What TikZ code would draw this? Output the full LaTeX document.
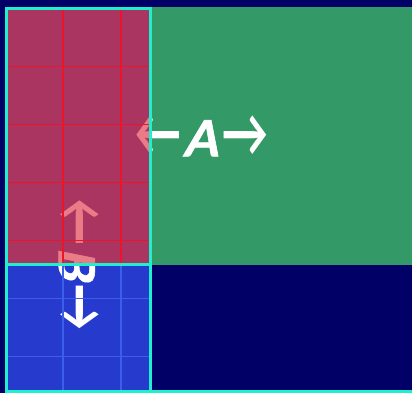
\documentclass[tikz,border=0pt]{standalone}
\usepackage{fontspec}
\setmainfont{Lato}
\newfontfamily\slfont{Lato}[FakeSlant=0.2,FakeBold=1.2]
\definecolor{bgnavy}{RGB}{0,0,102}
\definecolor{fieldgreen}{RGB}{51,153,102}
\definecolor{texblue}{RGB}{38,58,205}
\definecolor{redbase}{RGB}{100,85,160}
\definecolor{overred}{RGB}{220,30,50}
\definecolor{gridred}{RGB}{235,20,40}
\definecolor{gridblue}{RGB}{60,95,235}
\definecolor{edgecyan}{RGB}{30,240,205}
\newcommand{\bigarr}[1]{{\fontsize{66}{66}\selectfont\scalebox{0.72}[1]{#1}}}
\tikzset{
  label/.style={text=white,inner sep=0pt,font=\fontsize{50}{50}\selectfont\bfseries},
  edge/.style={draw=edgecyan,line width=3pt},
}
\begin{document}
\begin{tikzpicture}[x=1pt,y=1pt]
\useasboundingbox (0,0) rectangle (412,393);
\fill[bgnavy] (0,0) rectangle (412,393);
% green field
\fill[fieldgreen] (152,128) rectangle (412,386);
% blue textured column base
\fill[texblue] (8,2) rectangle (150,130);
\fill[redbase] (8,130) rectangle (150,383);
% labels
\node[label] (lblA) at (202,257) {\bigarr{←}\hspace{1pt}{\slfont\bfseries A}\hspace{4pt}\bigarr{→}};
\node[label,rotate=-90] (lblB) at (79,128) {\bigarr{←}\hspace{1pt}{\slfont\bfseries B}\hspace{4pt}\bigarr{→}};
% translucent red overlay
\fill[overred,opacity=0.58] (8,130) rectangle (150,383);
% grid lines
\foreach \gx in {63,121} {
  \draw[gridred,line width=1.3pt] (\gx,130) -- (\gx,383);
  \draw[gridblue,line width=1.3pt] (\gx,2) -- (\gx,127);
}
\foreach \gy in {326,268,210,152} {
  \draw[gridred,line width=1pt] (8,\gy) -- (150,\gy);
}
\foreach \gy in {94,36} {
  \draw[gridblue,line width=1pt] (8,\gy) -- (150,\gy);
}
% cyan edges
\coordinate (tl) at (6.5,384.5);
\coordinate (tr) at (150.5,384.5);
\coordinate (ml) at (6.5,128.5);
\coordinate (mr) at (150.5,128.5);
\coordinate (bl) at (6.5,1);
\coordinate (br) at (150.5,1);
\coordinate (bfar) at (412,1);
\draw[edge] (bl) -- (tl) -- (tr) -- (br);
\draw[edge] (ml) -- (mr);
\draw[edge] (5,1) -- (bfar);
\end{tikzpicture}
\end{document}
